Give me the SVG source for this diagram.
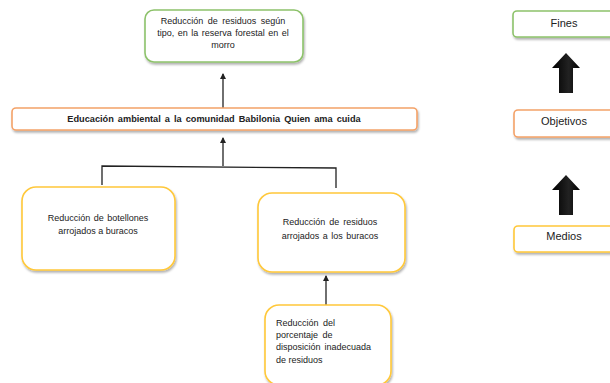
<svg xmlns="http://www.w3.org/2000/svg" width="610" height="383" viewBox="0 0 610 383">
<style>
text{font-family:"Liberation Sans",Arial,sans-serif;fill:#222;font-size:9px}
.c{text-anchor:middle}
.b{font-weight:bold;font-size:9.2px}
.l{font-size:11px}
.box{fill:#fff;stroke-width:1.6;filter:url(#sh)}
.g{stroke:#8DC26B}.o{stroke:#F4A268}.y{stroke:#FFC83A}
.ln{stroke:#222;stroke-width:1.3;fill:none}
</style>
<defs>
<filter id="sh" x="-10%" y="-20%" width="120%" height="150%">
<feDropShadow dx="1" dy="2" stdDeviation="1.2" flood-color="#000" flood-opacity="0.3"/>
</filter>
<marker id="ah" markerWidth="6" markerHeight="6" refX="5" refY="3" orient="auto" markerUnits="userSpaceOnUse">
<path d="M0,0 L6,3 L0,6 z" fill="#222"/>
</marker>
<linearGradient id="bg" x1="0" x2="1" y1="0" y2="0">
<stop offset="0" stop-color="#000"/><stop offset="0.6" stop-color="#222"/><stop offset="1" stop-color="#000"/>
</linearGradient>
</defs>
<g id="connectors">
<line class="ln" x1="223" y1="108" x2="223" y2="74" marker-end="url(#ah)"/>
<line class="ln" x1="223" y1="166" x2="223" y2="138" marker-end="url(#ah)"/>
<polyline class="ln" points="102,185 102,166 336,168 336,188"/>
<line class="ln" x1="326" y1="305" x2="326" y2="276" marker-end="url(#ah)"/>
</g>
<g id="n-fin">
<rect class="box g" x="145" y="10" width="158" height="52" rx="9"/>
<text class="c" x="223" y="24" word-spacing="2">Reducción de residuos según</text>
<text class="c" x="223" y="36" word-spacing="1">tipo, en la reserva forestal en el</text>
<text class="c" x="223" y="48">morro</text>
</g>
<g id="n-obj">
<rect class="box o" x="12" y="108" width="405" height="22" rx="4"/>
<text class="c b" x="214" y="122" word-spacing="1.5">Educación ambiental a la comunidad Babilonia Quien ama cuida</text>
</g>
<g id="n-m1">
<rect class="box y" x="22" y="187" width="153" height="83" rx="14"/>
<text class="c" x="98" y="221" word-spacing="1">Reducción de botellones</text>
<text class="c" x="98" y="234">arrojados a buracos</text>
</g>
<g id="n-m2">
<rect class="box y" x="258" y="193" width="147" height="79" rx="14"/>
<text class="c" x="330" y="225" word-spacing="1.5">Reducción de residuos</text>
<text class="c" x="330" y="239" word-spacing="1">arrojados a los buracos</text>
</g>
<g id="n-m3">
<rect class="box y" x="265" y="305" width="126" height="80" rx="14"/>
<text x="276" y="326" word-spacing="2">Reducción del</text>
<text x="276" y="338" word-spacing="2">porcentaje de</text>
<text x="276" y="350" word-spacing="1.5">disposición inadecuada</text>
<text x="276" y="363">de residuos</text>
</g>
<g id="n-fines">
<rect class="box g" x="513" y="11" width="110" height="26" rx="4"/>
<text class="c l" x="564" y="27">Fines</text>
</g>
<g id="n-objetivos">
<rect class="box o" x="514" y="110" width="110" height="27" rx="4"/>
<text class="c l" x="564" y="125">Objetivos</text>
</g>
<g id="n-medios">
<rect class="box y" x="514" y="226" width="110" height="26" rx="4"/>
<text class="c l" x="564" y="240">Medios</text>
</g>
<g id="block-arrows">
<path d="M566,53 L580,68 L573,68 L573,93 L559,93 L559,68 L552,68 z" fill="url(#bg)"/>
<path d="M566,175 L580,190 L573,190 L573,215 L559,215 L559,190 L552,190 z" fill="url(#bg)"/>
</g>
</svg>
